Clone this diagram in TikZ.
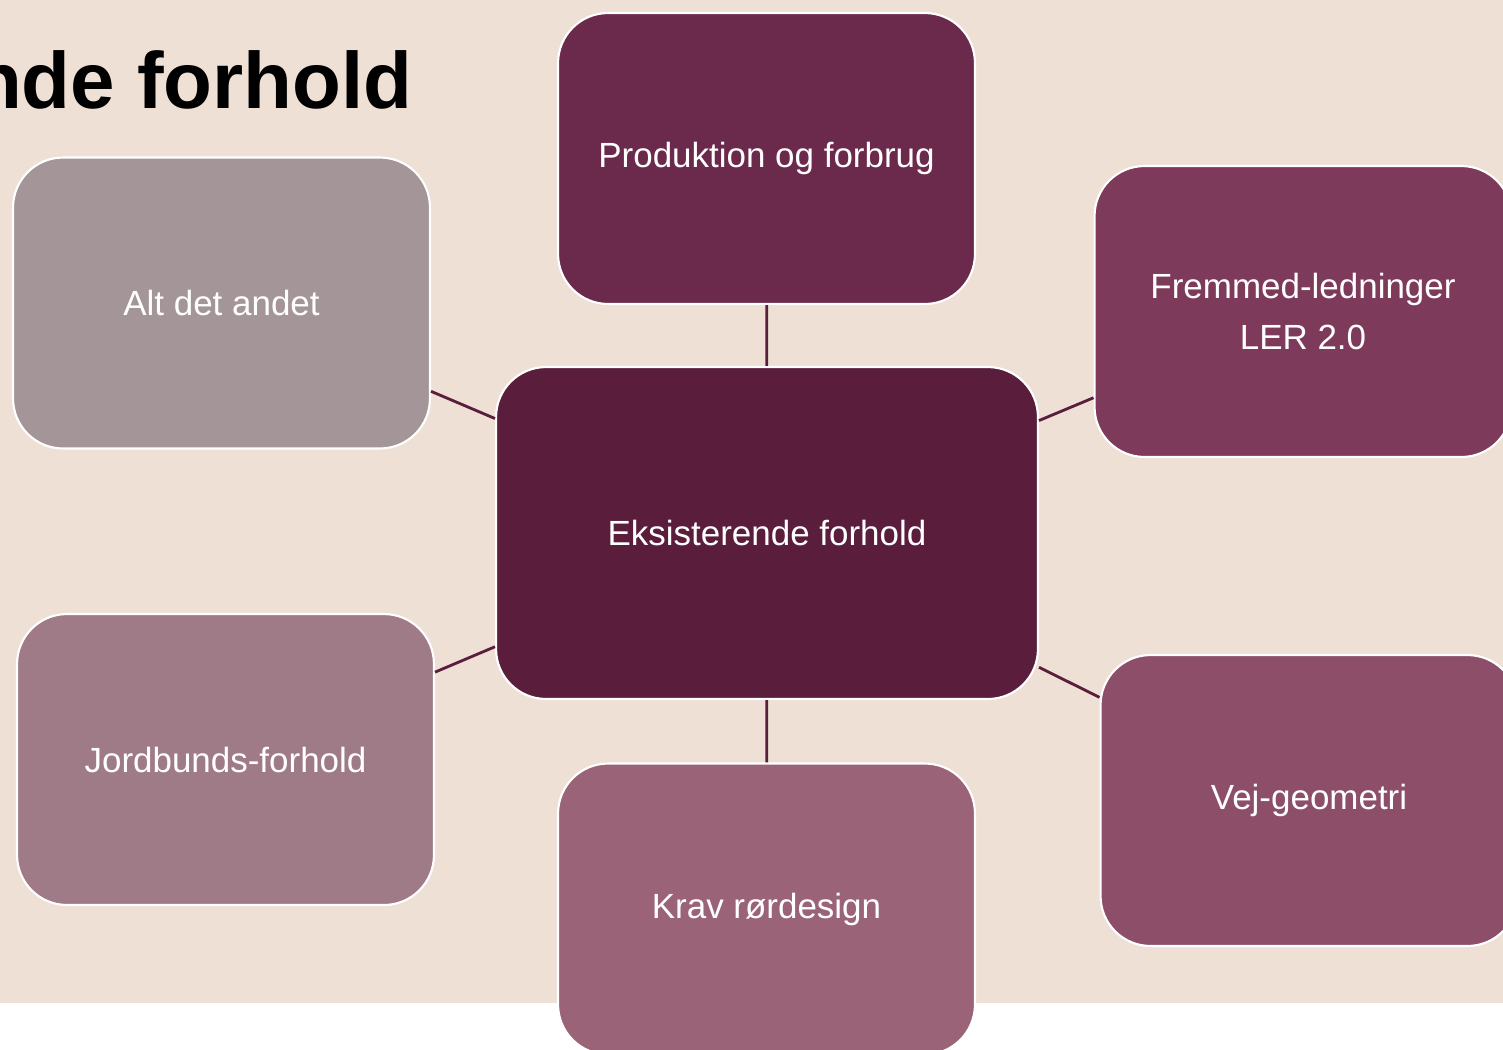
\documentclass[tikz,border=0pt]{standalone}
\usepackage{fontspec}
\setmainfont{Liberation Sans}
\usetikzlibrary{positioning}

\definecolor{bgbeige}{HTML}{EFE0D6}
\definecolor{linkplum}{HTML}{5A1E3C}
\definecolor{plumA}{HTML}{5A1E3C}
\definecolor{plumB}{HTML}{6B2A4B}
\definecolor{plumC}{HTML}{7E3A5A}
\definecolor{plumD}{HTML}{8C4E69}
\definecolor{plumE}{HTML}{9A6378}
\definecolor{plumF}{HTML}{9E7B87}
\definecolor{plumG}{HTML}{A49598}

\begin{document}
\begin{tikzpicture}[x=0.02cm, y=-0.02cm,
    topic/.style={rectangle, rounded corners=1cm, draw=white, line width=1.2pt,
                  minimum width=8.34cm, minimum height=5.82cm, text=white,
                  align=center, font=\fontsize{19.9}{29}\selectfont},
    hub/.style={topic, minimum width=10.84cm, minimum height=6.64cm},
    link/.style={draw=linkplum, line width=1.6pt}]
      \useasboundingbox (0, 0) rectangle (1503, 1049);
      \clip (0, 0) rectangle (1503, 1049);
      \fill[bgbeige] (0, 0) rectangle (1503, 1003);
      \node[anchor=base east, inner sep=0pt, font=\fontsize{45.5}{50}\selectfont\bfseries] (title) at (413, 108) {nde forhold};

      \node[hub, fill=plumA]   (eksist) at (767, 533)     {Eksisterende forhold};
      \node[topic, fill=plumB] (prod)   at (766.5, 158.5) {Produktion og forbrug};
      \node[topic, fill=plumC] (fremmed) at (1303, 311.5) {Fremmed-ledninger\\LER 2.0};
      \node[topic, fill=plumD] (vej)    at (1309, 800.5)  {Vej-geometri};
      \node[topic, fill=plumE] (krav)   at (766.5, 909)   {Krav rørdesign};
      \node[topic, fill=plumF] (jord)   at (225.5, 759.5) {Jordbunds-forhold};
      \node[topic, fill=plumG] (alt)    at (221.5, 303)   {Alt det andet};

      \foreach \leaf in {prod, fremmed, vej, krav, jord, alt}
        \draw[link] (eksist) -- (\leaf);
    \end{tikzpicture}
\end{document}
